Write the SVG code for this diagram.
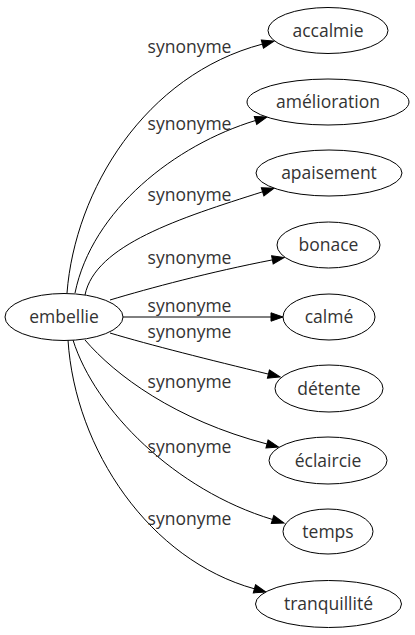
<svg xmlns="http://www.w3.org/2000/svg" width="415" height="635" viewBox="0 0 415 635">
<defs>
<style>
.node ellipse{fill:#fff;stroke:#000;stroke-width:1}
.node text{font-family:"Open Sans","DejaVu Sans",sans-serif;font-size:17.5px;fill:#333;text-anchor:middle}
.edges path{fill:none;stroke:#000;stroke-width:1}
.edges text{font-family:"Open Sans","DejaVu Sans",sans-serif;font-size:17.5px;fill:#333;text-anchor:middle}
</style>
<marker id="arr" markerUnits="userSpaceOnUse" markerWidth="14" markerHeight="10" refX="0" refY="4.2" orient="auto" overflow="visible">
<path d="M0,0 L12,4.2 L0,8.4 Z" fill="#000" stroke="#000" stroke-width="1"/>
</marker>
</defs>
<rect width="415" height="635" fill="#fff"/>
<g id="edges" class="edges">
<path d="M67,293 C75,190 145,75 262.4,44.1" marker-end="url(#arr)"/>
<text x="189.5" y="53">synonyme</text>
<path d="M75,293 C92,210 175,145 255.5,120.5" marker-end="url(#arr)"/>
<text x="189.5" y="130">synonyme</text>
<path d="M85,295 C95,245 180,218 262.6,191.8" marker-end="url(#arr)"/>
<text x="189.5" y="201">synonyme</text>
<path d="M110,300 C150,288 210,272 272.4,259.9" marker-end="url(#arr)"/>
<text x="189.5" y="264">synonyme</text>
<path d="M123,317 L271,317" marker-end="url(#arr)"/>
<text x="189.5" y="312">synonyme</text>
<path d="M110,333 C150,345 210,360 268.4,374.1" marker-end="url(#arr)"/>
<text x="189.5" y="338">synonyme</text>
<path d="M85,340 C115,375 175,420 267,444" marker-end="url(#arr)"/>
<text x="189.5" y="388">synonyme</text>
<path d="M73,340 C95,410 175,490 272.5,519.5" marker-end="url(#arr)"/>
<text x="189.5" y="453">synonyme</text>
<path d="M68,340 C75,450 150,560 254.4,588.8" marker-end="url(#arr)"/>
<text x="189.5" y="525">synonyme</text>
</g>
<g id="embellie" class="node"><ellipse cx="64" cy="317" rx="59" ry="23.5"/><text x="64" y="323">embellie</text></g>
<g id="accalmie" class="node"><ellipse cx="328" cy="30.5" rx="60" ry="23"/><text x="328" y="36.5">accalmie</text></g>
<g id="amelioration" class="node"><ellipse cx="328" cy="102" rx="81" ry="23"/><text x="328" y="108">amélioration</text></g>
<g id="apaisement" class="node"><ellipse cx="329" cy="173" rx="73" ry="23"/><text x="329" y="179">apaisement</text></g>
<g id="bonace" class="node"><ellipse cx="328.5" cy="245" rx="51.5" ry="23"/><text x="328.5" y="251">bonace</text></g>
<g id="calme" class="node"><ellipse cx="329" cy="317" rx="46" ry="23"/><text x="329" y="323">calmé</text></g>
<g id="detente" class="node"><ellipse cx="329" cy="388.5" rx="54" ry="23.5"/><text x="329" y="394.5">détente</text></g>
<g id="eclaircie" class="node"><ellipse cx="328" cy="460.5" rx="59" ry="23.5"/><text x="328" y="466.5">éclaircie</text></g>
<g id="temps" class="node"><ellipse cx="328" cy="531.5" rx="45" ry="22.5"/><text x="328" y="537.5">temps</text></g>
<g id="tranquillite" class="node"><ellipse cx="328.5" cy="604" rx="73" ry="23.5"/><text x="328.5" y="610">tranquillité</text></g>
</svg>
